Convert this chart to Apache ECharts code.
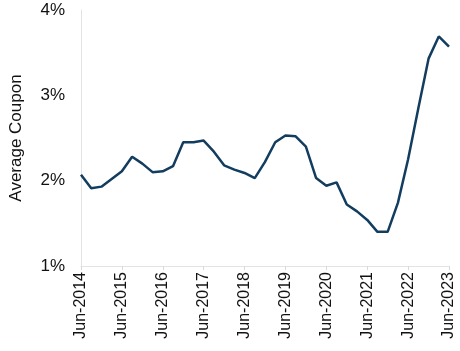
<!DOCTYPE html>
<html>
<head>
<meta charset="utf-8">
<script src="https://cdn.jsdelivr.net/npm/echarts@6/dist/echarts.min.js"></script>
<style>
  html, body { margin: 0; padding: 0; background: #fff; }
  #chart { width: 460px; height: 351px; }
</style>
</head>
<body>
<div id="chart"></div>
<script>
// quarterly points, Jun-2014 .. Jun-2023
const quarters = [
  'Jun-2014', 'Sep-2014', 'Dec-2014', 'Mar-2015',
  'Jun-2015', 'Sep-2015', 'Dec-2015', 'Mar-2016',
  'Jun-2016', 'Sep-2016', 'Dec-2016', 'Mar-2017',
  'Jun-2017', 'Sep-2017', 'Dec-2017', 'Mar-2018',
  'Jun-2018', 'Sep-2018', 'Dec-2018', 'Mar-2019',
  'Jun-2019', 'Sep-2019', 'Dec-2019', 'Mar-2020',
  'Jun-2020', 'Sep-2020', 'Dec-2020', 'Mar-2021',
  'Jun-2021', 'Sep-2021', 'Dec-2021', 'Mar-2022',
  'Jun-2022', 'Sep-2022', 'Dec-2022', 'Mar-2023',
  'Jun-2023'
];
// average coupon, %
const avgCoupon = [
  2.07, 1.91, 1.93, 2.02,
  2.11, 2.28, 2.20, 2.10,
  2.11, 2.17, 2.45, 2.45,
  2.47, 2.34, 2.18, 2.13,
  2.09, 2.03, 2.22, 2.45,
  2.53, 2.52, 2.40, 2.03,
  1.94, 1.98, 1.72, 1.64,
  1.54, 1.40, 1.40, 1.74,
  2.25, 2.85, 3.43, 3.69,
  3.57
];
const yTicks = [1, 2, 3, 4];

const chart = echarts.init(document.getElementById('chart'));
const textColor = '#111';
const font = 'Liberation Sans, Arial, sans-serif';

chart.setOption({
  animation: false,
  grid: { left: 78, right: 11, top: 10, bottom: 85 },
  xAxis: {
    type: 'category',
    data: quarters,
    boundaryGap: false,
    axisLine: { lineStyle: { color: '#e3e3e3', width: 1 } },
    axisTick: { interval: 3, length: 4, lineStyle: { color: '#d9d9d9' } },
    axisLabel: {
      interval: 3,
      rotate: 90,
      margin: 6,
      color: textColor,
      fontFamily: font,
      fontSize: 16
    },
    splitLine: { show: false }
  },
  yAxis: {
    type: 'value',
    min: yTicks[0],
    max: yTicks[yTicks.length - 1],
    interval: 1,
    name: 'Average Coupon',
    nameLocation: 'middle',
    nameGap: 56,
    nameTextStyle: { color: textColor, fontFamily: font, fontSize: 17 },
    axisLine: { show: true, lineStyle: { color: '#e3e3e3', width: 1 } },
    axisTick: { show: false },
    axisLabel: {
      margin: 16,
      color: textColor,
      fontFamily: font,
      fontSize: 17,
      formatter: v => v + '%'
    },
    splitLine: { show: false }
  },
  series: [{
    type: 'line',
    data: avgCoupon,
    symbol: 'none',
    lineStyle: { color: '#123d5f', width: 2.5 }
  }]
});
</script>
</body>
</html>
